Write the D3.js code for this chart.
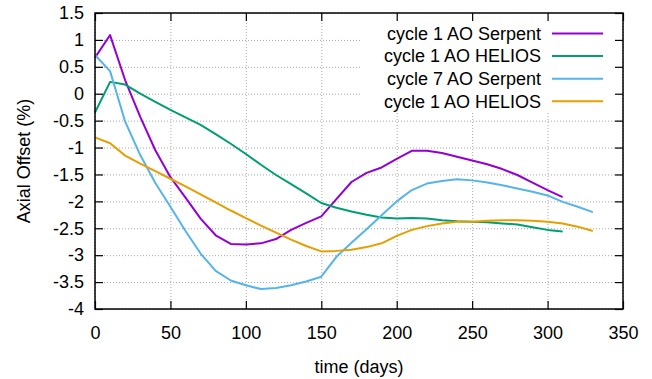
<!DOCTYPE html>
<html>
<head>
<meta charset="utf-8">
<script src="https://cdn.jsdelivr.net/npm/d3@7"></script>
<style>
  html, body { margin: 0; padding: 0; background: #fff; }
  svg { display: block; font-family: "Liberation Sans", Arial, sans-serif; }
</style>
</head>
<body>
<svg id="chart" width="652" height="379"></svg>
<script>
const daysA = d3.range(0, 311, 10);   // 0..310
const daysB = d3.range(0, 331, 10);   // 0..330

const serpentC1 = [0.67, 1.09, 0.25, -0.43, -1.05, -1.55, -1.93, -2.32, -2.63, -2.79,
  -2.80, -2.78, -2.70, -2.53, -2.40, -2.28, -1.96, -1.64, -1.47, -1.37,
  -1.21, -1.06, -1.06, -1.10, -1.17, -1.24, -1.31, -1.40, -1.51, -1.65,
  -1.79, -1.92];
const heliosC1 = [-0.35, 0.22, 0.17, 0.00, -0.15, -0.30, -0.44, -0.58, -0.75, -0.93,
  -1.12, -1.32, -1.51, -1.68, -1.85, -2.03, -2.12, -2.19, -2.25, -2.30,
  -2.32, -2.31, -2.32, -2.35, -2.37, -2.38, -2.39, -2.41, -2.43, -2.48,
  -2.53, -2.56];
const serpentC7 = [0.72, 0.42, -0.52, -1.14, -1.66, -2.10, -2.55, -2.97, -3.29, -3.47,
  -3.56, -3.63, -3.61, -3.56, -3.49, -3.40, -3.03, -2.77, -2.52, -2.26,
  -2.00, -1.79, -1.67, -1.62, -1.59, -1.61, -1.65, -1.70, -1.76, -1.82,
  -1.89, -2.01, -2.10, -2.20];
const heliosC7 = [-0.81, -0.92, -1.15, -1.30, -1.44, -1.58, -1.72, -1.87, -2.02, -2.17,
  -2.31, -2.45, -2.58, -2.71, -2.83, -2.93, -2.92, -2.90, -2.85, -2.78,
  -2.64, -2.53, -2.46, -2.41, -2.38, -2.38, -2.36, -2.35, -2.35, -2.36,
  -2.38, -2.41, -2.47, -2.55];

const legendLabels = ["cycle 1 AO Serpent", "cycle 1 AO HELIOS", "cycle 7 AO Serpent", "cycle 1 AO HELIOS"];
const colors = ["#9400d3", "#009e73", "#56b4e9", "#e69f00"];

const xTicks = d3.range(0, 351, 50);
const yTicks = d3.range(-4, 1.51, 0.5);

const series = [
  {days: daysA, values: serpentC1},
  {days: daysA, values: heliosC1},
  {days: daysB, values: serpentC7},
  {days: daysB, values: heliosC7}
];

// --- Layout ---
const svg = d3.select("#chart");
const margin = {left: 95, top: 13, right: 29, bottom: 70};
const width = 652 - margin.left - margin.right;
const height = 379 - margin.top - margin.bottom;
const fontSize = 18;

const x = d3.scaleLinear().domain([0, 350]).range([0, width]);
const y = d3.scaleLinear().domain([-4, 1.5]).range([height, 0]);

const g = svg.append("g").attr("transform", `translate(${margin.left},${margin.top})`);

// --- Grid (dotted) ---
g.append("g")
  .attr("class", "grid")
  .attr("transform", `translate(0,${height})`)
  .call(d3.axisBottom(x).tickValues(xTicks).tickSize(-height).tickFormat(""));
g.append("g")
  .attr("class", "grid")
  .call(d3.axisLeft(y).tickValues(yTicks).tickSize(-width).tickFormat(""));
g.selectAll(".grid .domain").remove();
g.selectAll(".grid line")
  .attr("stroke", "#a8a8a8")
  .attr("stroke-width", 1)
  .attr("stroke-dasharray", "1,2");

// legend box hides the grid behind it
g.append("rect")
  .attr("x", 265).attr("y", 0)
  .attr("width", width - 265).attr("height", 100)
  .attr("fill", "#fff");

// --- Lines ---
const line = d3.line()
  .x(d => x(d[0]))
  .y(d => y(d[1]));

g.selectAll("path.series")
  .data(series)
  .enter()
  .append("path")
  .attr("class", "series")
  .attr("d", s => line(s.days.map((d, i) => [d, s.values[i]])))
  .attr("fill", "none")
  .attr("stroke", (s, i) => colors[i])
  .attr("stroke-width", 2)
  .attr("stroke-linejoin", "round");

// --- Axes (inward ticks, mirrored on top/right) ---
const fmt = d => String(d);

g.append("g")
  .attr("transform", `translate(0,${height})`)
  .call(d3.axisBottom(x).tickValues(xTicks).tickSize(-8).tickPadding(17).tickFormat(fmt));
g.append("g")
  .call(d3.axisLeft(y).tickValues(yTicks).tickSize(-8).tickPadding(11).tickFormat(fmt));
g.append("g")
  .call(d3.axisTop(x).tickValues(xTicks).tickSize(-8).tickFormat(""));
g.append("g")
  .attr("transform", `translate(${width},0)`)
  .call(d3.axisRight(y).tickValues(yTicks).tickSize(-8).tickFormat(""));

g.selectAll(".domain").remove();
g.selectAll(".tick line").filter(function() { return !this.closest(".grid"); })
  .attr("stroke", "#000").attr("stroke-width", 1.2);
g.selectAll(".tick text")
  .attr("font-family", "'Liberation Sans', Arial, sans-serif")
  .attr("font-size", fontSize)
  .attr("fill", "#000");

// border
g.append("rect")
  .attr("width", width).attr("height", height)
  .attr("fill", "none")
  .attr("stroke", "#000")
  .attr("stroke-width", 1.5);

// --- Axis titles ---
svg.append("text")
  .attr("x", margin.left + width / 2)
  .attr("y", 373)
  .attr("text-anchor", "middle")
  .attr("font-size", fontSize)
  .text("time (days)");

svg.append("text")
  .attr("transform", `translate(30,${margin.top + height / 2}) rotate(-90)`)
  .attr("text-anchor", "middle")
  .attr("font-size", fontSize)
  .text("Axial Offset (%)");

// --- Legend ---
const legend = svg.append("g");
const rows = legend.selectAll("g")
  .data(legendLabels)
  .enter()
  .append("g")
  .attr("transform", (d, i) => `translate(0,${33.5 + i * 22.6})`);

rows.append("text")
  .attr("x", 541)
  .attr("dy", "0.35em")
  .attr("text-anchor", "end")
  .attr("font-size", fontSize)
  .text(d => d);

rows.append("line")
  .attr("x1", 552).attr("x2", 603)
  .attr("stroke", (d, i) => colors[i])
  .attr("stroke-width", 2);
</script>
</body>
</html>
